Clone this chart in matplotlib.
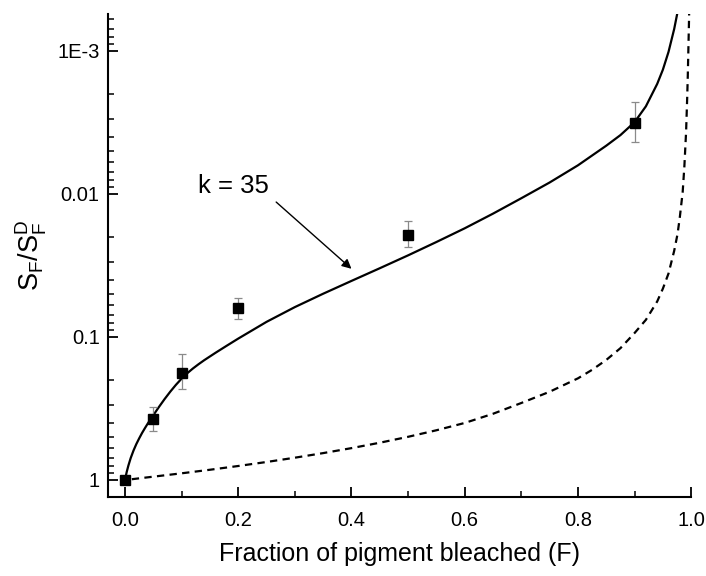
import numpy as np
import matplotlib
matplotlib.use("Agg")
import matplotlib.pyplot as plt
from matplotlib.ticker import FixedLocator, NullFormatter, LogLocator

plt.rcParams['font.family'] = ['Liberation Sans', 'DejaVu Sans']
plt.rcParams['mathtext.fontset'] = 'custom'
plt.rcParams['mathtext.rm'] = 'Liberation Sans'
plt.rcParams['mathtext.it'] = 'Liberation Sans'

# measured points (fraction bleached vs relative sensitivity)
frac = [0.0, 0.05, 0.1, 0.2, 0.5, 0.9]
sens = [1.0, 0.377, 0.178, 0.063, 0.0194, 0.00318]
sens_lo = [1.0, 0.459, 0.231, 0.0748, 0.0236, 0.00431]
sens_hi = [1.0, 0.307, 0.132, 0.0531, 0.01545, 0.00229]

# k = 35 curve
k_x = [0.0, 0.003, 0.006, 0.01, 0.015, 0.02, 0.025, 0.03, 0.035, 0.04,
       0.045, 0.05, 0.06, 0.07, 0.08, 0.09, 0.1, 0.11, 0.12, 0.13, 0.14,
       0.16, 0.18, 0.2, 0.25, 0.3, 0.35, 0.4, 0.45, 0.5, 0.55, 0.6, 0.65,
       0.7, 0.75, 0.8, 0.85, 0.875, 0.9, 0.92, 0.94, 0.95, 0.96, 0.97, 0.977]
k_y = [1.0, 0.881, 0.794, 0.705, 0.624, 0.562, 0.513, 0.471, 0.436, 0.405,
       0.378, 0.353, 0.309, 0.272, 0.2415, 0.2163, 0.1959, 0.1795, 0.1663,
       0.1552, 0.1455, 0.1291, 0.1151, 0.1028, 0.0785, 0.0619, 0.0499,
       0.0406, 0.0331, 0.0269, 0.0217, 0.0174, 0.01374, 0.01072, 0.00832,
       0.00631, 0.0046, 0.00388, 0.00315, 0.00244, 0.0017, 0.001353,
       0.001015, 0.000702, 0.000509]

# dashed curve
d_x = [0.012, 0.05, 0.1, 0.15, 0.2, 0.25, 0.3, 0.35, 0.4, 0.45, 0.5, 0.55,
       0.6, 0.65, 0.7, 0.75, 0.8, 0.825, 0.85, 0.875, 0.9, 0.92, 0.94, 0.95,
       0.96, 0.97, 0.976, 0.98, 0.985, 0.988, 0.991, 0.993, 0.994, 0.995,
       0.996, 0.9967]
d_y = [0.99, 0.95, 0.90, 0.85, 0.80, 0.75, 0.70, 0.65, 0.60, 0.55, 0.50,
       0.45, 0.40, 0.345, 0.29, 0.242, 0.195, 0.17, 0.145, 0.12, 0.094,
       0.076, 0.0565, 0.046, 0.036, 0.025, 0.019, 0.0145, 0.0097, 0.0064,
       0.0037, 0.0021, 0.0015, 0.0010, 0.00066, 0.00047]

fig = plt.figure(figsize=(7.06, 5.76), dpi=100)
ax = fig.add_axes([0.153, 0.137, 0.826, 0.839])

ax.plot(k_x, k_y, color='black', lw=1.6, solid_joinstyle='round')
ax.plot(d_x, d_y, color='black', lw=1.6, linestyle=(0, (3.3, 2.4)))

yerr = [np.array(sens) - np.array(sens_hi), np.array(sens_lo) - np.array(sens)]
ax.errorbar(frac, sens, yerr=yerr, fmt='none', ecolor='#8a8a8a',
            elinewidth=0.9, capsize=2.6, capthick=0.9, zorder=3)
ax.plot(frac, sens, 's', color='black', ms=7.5, zorder=4, clip_on=False)

ax.text(0.191, 0.0088, 'k = 35', fontsize=18.5, ha='center', va='center')
ax.annotate('', xy=(0.40, 0.0334), xytext=(0.267, 0.0114),
            arrowprops=dict(arrowstyle='-|>', color='black', lw=1.0,
                            mutation_scale=14, shrinkA=0, shrinkB=0))

ax.set_yscale('log')
ax.set_xlim(-0.03, 1.0)
ax.set_ylim(1.32, 5.5e-4)

ax.set_xticks([0.0, 0.2, 0.4, 0.6, 0.8, 1.0])
ax.set_xticklabels(['0.0', '0.2', '0.4', '0.6', '0.8', '1.0'])
ax.xaxis.set_minor_locator(FixedLocator([0.1, 0.3, 0.5, 0.7, 0.9]))
ax.set_yticks([1e-3, 1e-2, 1e-1, 1])
ax.set_yticklabels(['1E-3', '0.01', '0.1', '1'])
ax.yaxis.set_minor_locator(LogLocator(base=10, subs=np.arange(2, 10)))
ax.yaxis.set_minor_formatter(NullFormatter())

ax.tick_params(which='major', direction='in', length=7, width=1.3,
               labelsize=14.5)
ax.tick_params(axis='x', which='major', pad=10)
ax.tick_params(axis='y', which='major', pad=6)
ax.tick_params(which='minor', direction='in', length=4, width=1.1)

for s in ['top', 'right']:
    ax.spines[s].set_visible(False)
for s in ['left', 'bottom']:
    ax.spines[s].set_linewidth(1.5)

ax.set_xlabel('Fraction of pigment bleached (F)', fontsize=18, labelpad=9)
ax.set_ylabel(r'$\mathregular{S_F/S_F^D}$', fontsize=19.5, labelpad=6)

fig.savefig('out.png', dpi=100)
